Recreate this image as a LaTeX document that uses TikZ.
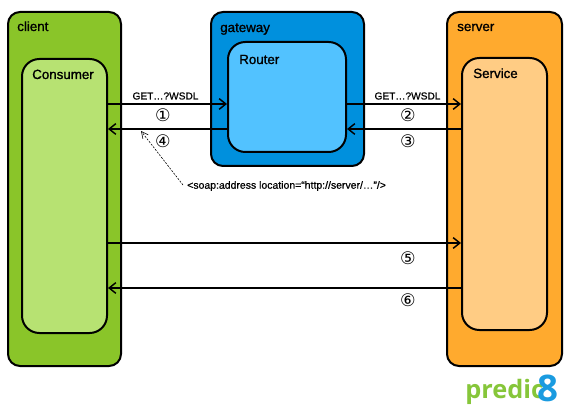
\documentclass[tikz,border=0pt]{standalone}
\usepackage{fontspec}
\setmainfont{Liberation Sans}
\newfontfamily\titlefont[FakeBold=1.2]{Liberation Sans}
\newfontfamily\smallfont[FakeBold=0.8]{Liberation Sans}
\newfontfamily\numfont{DejaVu Sans}
\newfontfamily\logofont{Open Sans}
\usetikzlibrary{arrows.meta}
\definecolor{clientouter}{HTML}{8AC529}
\definecolor{clientinner}{HTML}{B7E272}
\definecolor{gatewayouter}{HTML}{0090DD}
\definecolor{gatewayinner}{HTML}{52C2FF}
\definecolor{serverouter}{HTML}{FFAA2E}
\definecolor{serverinner}{HTML}{FFCC84}
\definecolor{logogreen}{HTML}{86C63A}
\definecolor{logoblue}{HTML}{1A9BE0}
\tikzset{
	outerbox/.style={draw=black,line width=1.5pt,rounded corners=9pt,inner sep=0pt},
	innerbox/.style={draw=black,line width=1.5pt,rounded corners=13pt,inner sep=0pt},
	boxtitle/.style={inner sep=0pt,anchor=base west,font=\titlefont\fontsize{10pt}{12pt}\selectfont},
	msg/.style={draw=black,line width=1.3pt,-{Straight Barb[length=5pt,width=8pt,line width=1.1pt]}},
	getlabel/.style={inner sep=0pt,font=\smallfont\fontsize{7.6pt}{9pt}\selectfont},
	notelabel/.style={inner sep=0pt,font=\smallfont\fontsize{7.85pt}{9pt}\selectfont},
	step num/.style={inner sep=0pt,font=\numfont\fontsize{13pt}{15pt}\selectfont}
}
\begin{document}
\begin{tikzpicture}[x=0.75pt,y=-0.75pt]
	\useasboundingbox (0,0) rectangle (568,406);
	% boxes
	\node[outerbox,fill=clientouter,minimum width=84.75pt,minimum height=265.5pt] (client) at (64.5,189) {};
	\node[innerbox,fill=clientinner,minimum width=63.75pt,minimum height=205.5pt] (consumer) at (64.5,196) {};
	\node[outerbox,fill=gatewayouter,minimum width=114.75pt,minimum height=115.5pt] (gateway) at (287.5,89) {};
	\node[innerbox,fill=gatewayinner,minimum width=88.5pt,minimum height=82.5pt] (router) at (287,97) {};
	\node[outerbox,fill=serverouter,minimum width=86.25pt,minimum height=265.5pt] (server) at (504.5,189) {};
	\node[innerbox,fill=serverinner,minimum width=63.75pt,minimum height=204pt] (service) at (504.5,194) {};
	% titles
	\node[boxtitle] (clienttitle) at (17,31) {client};
	\node[boxtitle] (gatewaytitle) at (220,32) {gateway};
	\node[boxtitle] (servertitle) at (457,31) {server};
	\node[boxtitle] (consumertitle) at (32,79) {Consumer};
	\node[boxtitle] (routertitle) at (239,64) {Router};
	\node[boxtitle] (servicetitle) at (473,78) {Service};
	% arrows
	\draw[msg] (consumer.east |- 0,104) -- (router.west |- 0,104);
	\draw[msg] (router.west |- 0,129) -- (consumer.east |- 0,129);
	\draw[msg] (router.east |- 0,104) -- (service.west |- 0,104);
	\draw[msg] (service.west |- 0,129) -- (router.east |- 0,129);
	\draw[msg] (consumer.east |- 0,243) -- (service.west |- 0,243);
	\draw[msg] (service.west |- 0,288) -- (consumer.east |- 0,288);
	% labels
	\node[getlabel] (geta) at (165.5,96) {GET…?WSDL};
	\node[getlabel] (getb) at (407.5,96) {GET…?WSDL};
	\node[step num] (numa) at (163,115) {①};
	\node[step num] (numb) at (408,115) {②};
	\node[step num] (numc) at (408,141) {③};
	\node[step num] (numd) at (163,141) {④};
	\node[step num] (nume) at (408,258) {⑤};
	\node[step num] (numf) at (408,300) {⑥};
	% wsdl note
	\coordinate (notetip) at (141,131);
	\node[notelabel,anchor=west] (note) at (187,186) {<soap:address location=“http://server/…”/>};
	\draw[dash pattern=on 1.5pt off 1pt,line width=0.45pt,-{Straight Barb[length=5pt,width=5pt,line width=0.45pt]}] (note.west) ++(-4,-1) -- (notetip);
	% logo
	\node[inner sep=0pt,anchor=base west,text=logogreen,font=\logofont\bfseries\fontsize{19pt}{22pt}\selectfont] (logo) at (465,398) {predic};
	\node[inner sep=0pt,anchor=base west,text=logoblue,font=\logofont\bfseries\fontsize{27.5pt}{30pt}\selectfont] (logoeight) at (537,401.5) {8};
\end{tikzpicture}
\end{document}
